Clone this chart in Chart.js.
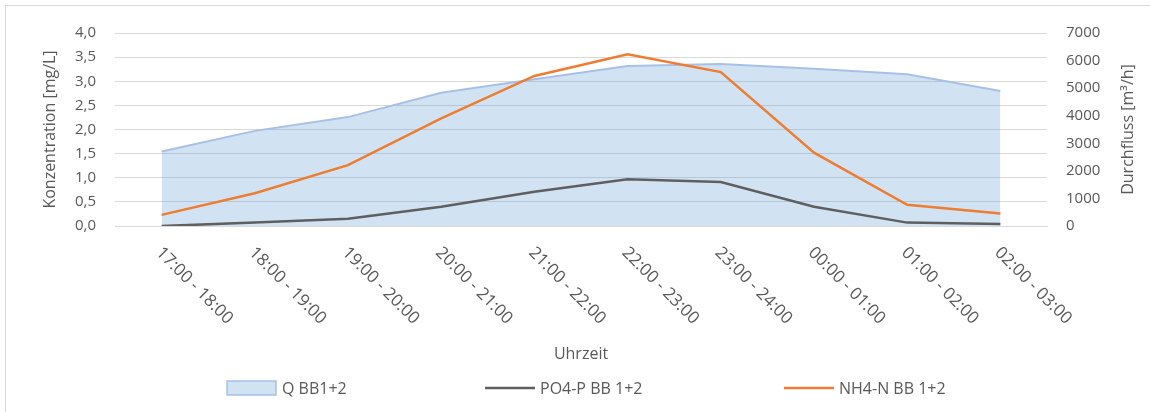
<!DOCTYPE html>
<html>
<head>
<meta charset="utf-8">
<script src="https://cdn.jsdelivr.net/npm/chart.js@4/dist/chart.umd.min.js"></script>
<style>
    html, body { margin: 0; padding: 0; background: #fff; }
    #wrap { position: relative; width: 1150px; height: 412px; }
    #frame { position: absolute; left: 5px; top: 5px; right: -10px; bottom: -10px;
             border-left: 1px solid #d9d9d9; border-top: 1px solid #d9d9d9; pointer-events: none; }
</style>
</head>
<body>
<div id="wrap">
    <canvas id="chart" width="1150" height="412"></canvas>
    <div id="frame"></div>
</div>
<script>
// ------------------------------------------------------------------------
// Data
// ------------------------------------------------------------------------
const timeSlots = ['17:00 - 18:00', '18:00 - 19:00', '19:00 - 20:00', '20:00 - 21:00', '21:00 - 22:00',
                   '22:00 - 23:00', '23:00 - 24:00', '00:00 - 01:00', '01:00 - 02:00', '02:00 - 03:00'];
const flowQ = [2700, 3450, 3950, 4830, 5320, 5800, 5880, 5700, 5500, 4900];       // m³/h
const po4P = [0.0, 0.07, 0.15, 0.40, 0.71, 0.97, 0.91, 0.40, 0.07, 0.04];          // mg/L
const nh4N = [0.23, 0.68, 1.26, 2.23, 3.11, 3.56, 3.19, 1.52, 0.44, 0.26];         // mg/L

const seriesNames = ['Q BB1+2', 'PO4-P BB 1+2', 'NH4-N BB 1+2'];
const axisTitles = ['Konzentration [mg/L]', 'Durchfluss [m³/h]', 'Uhrzeit'];
const leftTicks = { min: 0, max: 4, step: 0.5 };
const rightTicks = { min: 0, max: 7000, step: 1000 };

const textColor = '#595959';
const gridColor = '#d9d9d9';
const fontFamily = '"Open Sans", "Noto Sans", sans-serif';

// Rotated (+45°) category labels, Excel style: text starts at the tick
const slantedLabels = {
    id: 'slantedLabels',
    afterDraw(chart) {
        const x = chart.scales.x;
        const ctx = chart.ctx;
        ctx.save();
        ctx.fillStyle = textColor;
        ctx.font = '17px ' + fontFamily;
        ctx.textAlign = 'left';
        ctx.textBaseline = 'middle';
        x.ticks.forEach((t, i) => {
            const px = x.getPixelForTick(i);
            ctx.save();
            ctx.translate(px - 3, chart.chartArea.bottom + 24);
            ctx.rotate(Math.PI / 4);
            ctx.fillText(timeSlots[i], 0, 0);
            ctx.restore();
        });
        ctx.restore();
    }
};

// Right axis title reads bottom-to-top like the left one
const rightTitle = {
    id: 'rightTitle',
    afterDraw(chart) {
        const ctx = chart.ctx;
        const area = chart.chartArea;
        ctx.save();
        ctx.fillStyle = textColor;
        ctx.font = '16px ' + fontFamily;
        ctx.textAlign = 'center';
        ctx.textBaseline = 'middle';
        ctx.translate(1128, (area.top + area.bottom) / 2);
        ctx.rotate(-Math.PI / 2);
        ctx.fillText(axisTitles[1], 0, 0);
        ctx.restore();
    }
};

// Legend spread out like the spreadsheet original
const wideLegend = {
    id: 'wideLegend',
    afterDraw(chart) {
        const ctx = chart.ctx;
        const y = 388;
        const starts = [227, 485, 784];
        ctx.save();
        ctx.font = '16px ' + fontFamily;
        ctx.textBaseline = 'middle';
        ctx.textAlign = 'left';
        chart.data.datasets.forEach((ds, i) => {
            const x0 = starts[i];
            if (ds.fill) {
                ctx.fillStyle = ds.backgroundColor;
                ctx.fillRect(x0, y - 7, 49, 14);
                ctx.strokeStyle = ds.borderColor;
                ctx.lineWidth = 1.5;
                ctx.strokeRect(x0, y - 7, 49, 14);
            } else {
                ctx.strokeStyle = ds.borderColor;
                ctx.lineWidth = ds.borderWidth;
                ctx.beginPath();
                ctx.moveTo(x0, y);
                ctx.lineTo(x0 + 50, y);
                ctx.stroke();
            }
            ctx.fillStyle = textColor;
            ctx.fillText(ds.label, x0 + 55, y + 1);
        });
        ctx.restore();
    }
};

new Chart(document.getElementById('chart'), {
    type: 'line',
    data: {
        labels: timeSlots,
        datasets: [
            {
                label: seriesNames[0],
                data: flowQ,
                yAxisID: 'y1',
                fill: 'origin',
                backgroundColor: 'rgba(91, 155, 213, 0.28)',
                borderColor: '#a8c0e6',
                borderWidth: 2,
                pointRadius: 0,
                tension: 0,
                order: 10
            },
            {
                label: seriesNames[1],
                data: po4P,
                yAxisID: 'y',
                fill: false,
                borderColor: '#5f5f5f',
                borderWidth: 2.5,
                pointRadius: 0,
                tension: 0,
                order: 2
            },
            {
                label: seriesNames[2],
                data: nh4N,
                yAxisID: 'y',
                fill: false,
                borderColor: '#ed7d31',
                borderWidth: 2.5,
                pointRadius: 0,
                tension: 0,
                order: 1
            }
        ]
    },
    options: {
        responsive: false,
        animation: false,
        layout: { padding: { left: 0, right: 0, top: 33, bottom: 46 } },
        plugins: {
            legend: { display: false },
            tooltip: { enabled: false }
        },
        scales: {
            x: {
                offset: true,
                grid: { display: false, drawTicks: false },
                border: { display: true, color: gridColor },
                ticks: { display: false },
                title: {
                    display: true,
                    text: axisTitles[2],
                    color: textColor,
                    font: { family: fontFamily, size: 16 },
                    padding: { top: 0, bottom: 2 }
                },
                afterFit: (scale) => { scale.height = 140; }
            },
            y: {
                position: 'left',
                min: leftTicks.min,
                max: leftTicks.max,
                grid: { color: gridColor, drawTicks: false },
                border: { display: false },
                ticks: {
                    stepSize: leftTicks.step,
                    padding: 19,
                    color: textColor,
                    font: { family: fontFamily, size: 15 },
                    callback: (v) => v.toFixed(1).replace('.', ',')
                },
                title: {
                    display: true,
                    text: axisTitles[0],
                    color: textColor,
                    font: { family: fontFamily, size: 16 },
                    padding: { top: 41, bottom: 0 }
                },
                afterFit: (scale) => { scale.width = 115; }
            },
            y1: {
                position: 'right',
                min: rightTicks.min,
                max: rightTicks.max,
                grid: { display: false, drawTicks: false },
                border: { display: false },
                ticks: {
                    stepSize: rightTicks.step,
                    padding: 19,
                    color: textColor,
                    font: { family: fontFamily, size: 15 },
                    callback: (v) => String(v)
                },
                title: { display: false },
                afterFit: (scale) => { scale.width = 103; }
            }
        }
    },
    plugins: [slantedLabels, rightTitle, wideLegend]
});
</script>
</body>
</html>
